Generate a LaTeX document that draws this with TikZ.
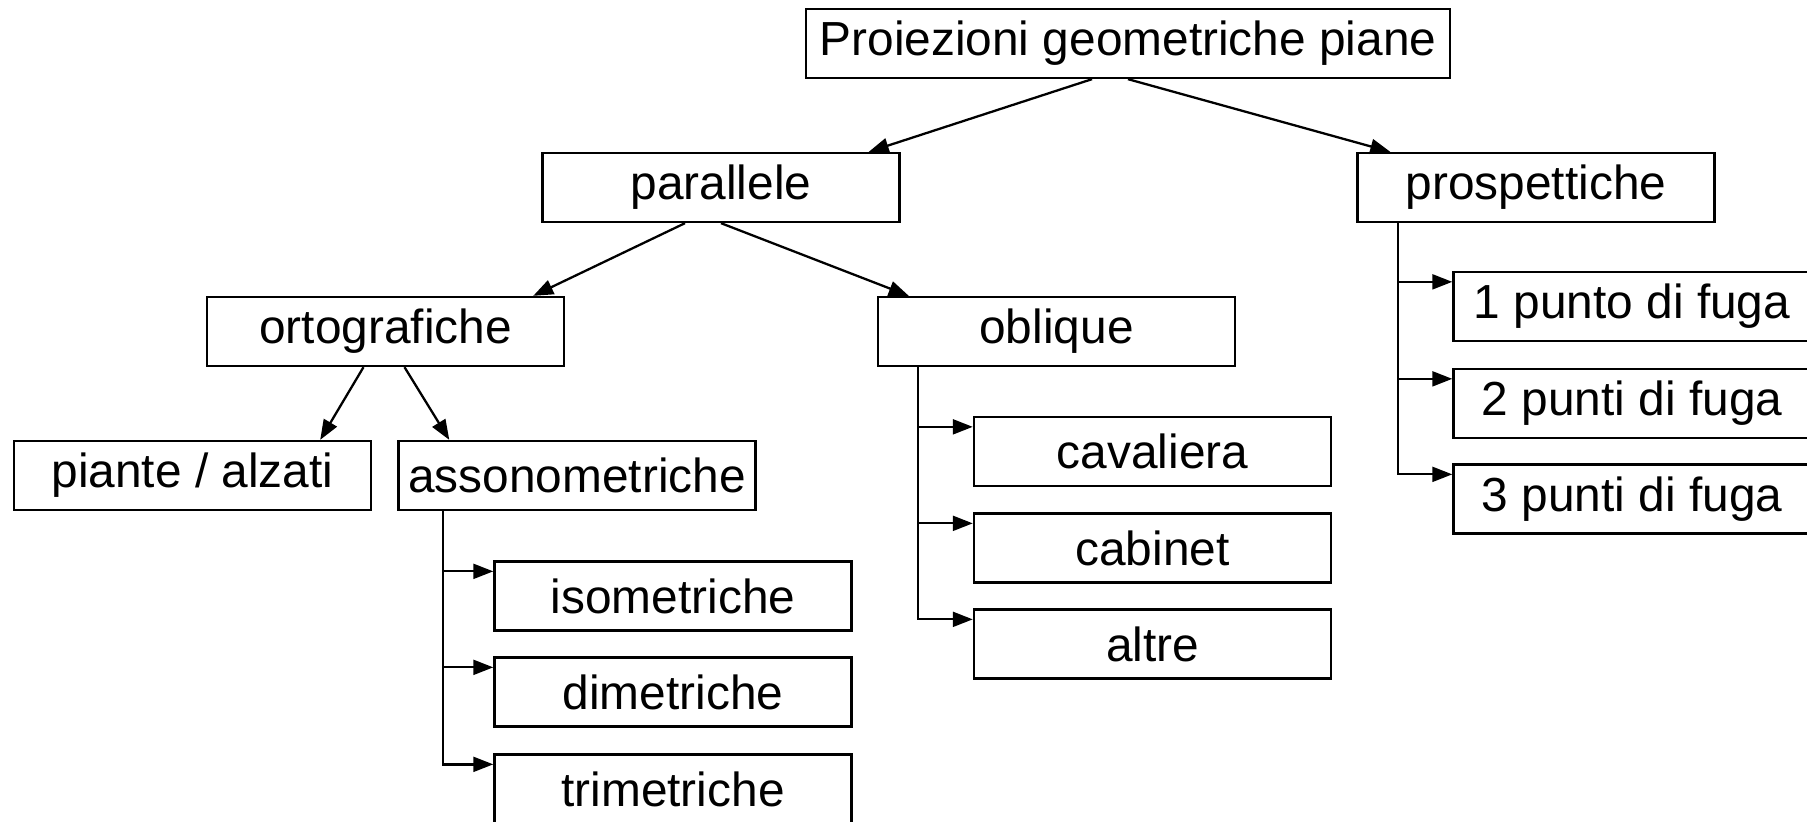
\documentclass[tikz,border=0pt]{standalone}
\usepackage{fontspec}
\setmainfont{Liberation Sans}
\usetikzlibrary{arrows.meta}

\tikzset{
	box/.style={draw, line width=0.65pt, minimum width=3.57cm, minimum height=0.69cm,
		inner sep=0pt, font=\fontsize{13.6}{16}\selectfont},
	arr/.style={line width=0.65pt, -{Triangle[length=0.2cm,width=0.15cm]}},
}

\begin{document}
\begin{tikzpicture}[x=0.01cm, y=-0.01cm]
				\useasboundingbox (0,0) rectangle (1807,821);
				
				% root
				\node[box, minimum width=6.44cm] (P) at (1128,43.5) {Proiezioni geometriche piane};
				
				% second and third level
				\foreach \n/\x/\y/\t in
				{par/721/187.5/parallele, pro/1536/187.5/prospettiche,
				 ort/385.5/331.5/ortografiche, obl/1056.5/331.5/oblique,
				 aso/577/475.5/assonometriche}{
					\node[box] (\n) at (\x,\y) {\t};
				}
				\node[box] (pia) at (192.5,475.5) {piante / alzati};
				
				% leaves
				\foreach \n/\x/\y/\t in
				{iso/673/596/isometriche, dim/673/692/dimetriche, tri/673/789/trimetriche,
				 cav/1152.5/451.5/cavaliera, cab/1152.5/548/cabinet, alt/1152.5/644/altre,
				 pa/1632/306.5/1 punto di fuga, pb/1632/403.5/2 punti di fuga,
				 pc/1632/499/3 punti di fuga}{
					\node[box] (\n) at (\x,\y) {\t};
				}
				
				% tree arrows
				\draw[arr] ([xshift=-0.36cm]P.south) -- ([xshift=-0.32cm]par.north east);
				\draw[arr] (P.south) -- ([xshift=0.34cm]pro.north west);
				\draw[arr] ([xshift=-0.36cm]par.south) -- ([xshift=-0.32cm]ort.north east);
				\draw[arr] (par.south) -- ([xshift=0.32cm]obl.north west);
				\draw[arr] ([xshift=-0.22cm]ort.south) -- ([xshift=-0.52cm]pia.north east);
				\draw[arr] ([xshift=0.19cm]ort.south) -- ([xshift=0.52cm]aso.north west);
				
				% side lists
				\foreach \p/\c/\d in
				{aso/iso/0.46, aso/dim/0.46, aso/tri/0.46,
				 obl/cav/0.41, obl/cab/0.41, obl/alt/0.41,
				 pro/pa/0.42, pro/pb/0.42, pro/pc/0.42}{
					\draw[arr] ([xshift=\d cm]\p.south west) |- ([yshift=-0.11cm]\c.north west);
				}
			\end{tikzpicture}
\end{document}
